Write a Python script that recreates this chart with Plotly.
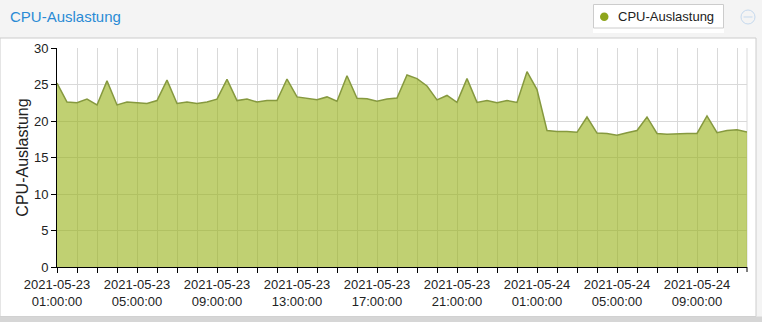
import pandas as pd
import plotly.graph_objects as go

# ---- data ----
start_time = "2021-05-23 01:00:00"
interval = "30min"
cpu_values = [
    25.2, 22.6, 22.5, 23.0, 22.2, 25.5, 22.2, 22.6, 22.5, 22.4,
    22.8, 25.6, 22.4, 22.6, 22.4, 22.6, 23.0, 25.7, 22.8, 23.0,
    22.6, 22.8, 22.8, 25.75, 23.3, 23.15, 22.9, 23.3, 22.7, 26.2,
    23.1, 23.05, 22.7, 23.0, 23.15, 26.3, 25.8, 24.8, 22.9, 23.5,
    22.55, 25.8, 22.55, 22.8, 22.5, 22.8, 22.55, 26.75, 24.3, 18.7,
    18.55, 18.55, 18.45, 20.55, 18.35, 18.3, 18.05, 18.4, 18.7, 20.55,
    18.3, 18.2, 18.3, 18.3, 18.3, 20.7, 18.4, 18.7, 18.8, 18.5,
]
timestamps = pd.date_range(start=start_time, periods=len(cpu_values), freq=interval)
series_name = "CPU-Auslastung"
chart_title = "CPU-Auslastung"
y_title = "CPU-Auslastung"

# ---- layout geometry (pixels) ----
W, H = 762, 322
L, R, T, B = 57, 15, 48, 55
pw, ph = W - L - R, H - T - B


def px(x):
    return (x - L) / pw


def py(y):
    return (H - B - y) / ph


FONT = "Liberation Sans, Arial, sans-serif"
GRID = "#d9d9d9"
SERIES_DOT = "#8ea51c"

fig = go.Figure()
fig.add_trace(go.Scatter(
    x=timestamps, y=cpu_values, mode="lines", name=series_name,
    line=dict(color="#86993f", width=1.5),
    fill="tozeroy", fillcolor="rgba(150,176,20,0.6)",
    showlegend=False, hoverinfo="x+y",
))

shapes = [
    # white panel with border
    dict(type="rect", xref="paper", yref="paper", layer="below",
         x0=px(0), x1=px(756), y0=py(38), y1=py(316.5),
         fillcolor="white", line=dict(color="#cccccc", width=1)),
    # bottom band
    dict(type="rect", xref="paper", yref="paper", layer="below",
         x0=px(-5), x1=px(770), y0=py(316.5), y1=py(330),
         fillcolor="#d6d6d6", line=dict(width=0)),
    # white strip under legend
    dict(type="rect", xref="paper", yref="paper", layer="below",
         x0=px(593), x1=px(724), y0=py(33), y1=py(20),
         fillcolor="white", line=dict(width=0)),
    # legend box
    dict(type="rect", xref="paper", yref="paper",
         x0=px(593.5), x1=px(723.5), y0=py(28), y1=py(4.5),
         fillcolor="white", line=dict(color="#cccccc", width=1)),
    # legend dot
    dict(type="circle", xref="paper", yref="paper",
         x0=px(600), x1=px(608.5), y0=py(21), y1=py(12.5),
         fillcolor=SERIES_DOT, line=dict(width=0)),
    # right plot edge grid line
    dict(type="line", xref="paper", yref="paper",
         x0=1, x1=1, y0=0, y1=1, line=dict(color=GRID, width=1), layer="below"),
    # end tick
    dict(type="line", xref="paper", yref="paper",
         x0=1, x1=1, y0=0, y1=py(272), line=dict(color="black", width=1)),
    # collapse button
    dict(type="circle", xref="paper", yref="paper",
         x0=px(741), x1=px(755), y0=py(10), y1=py(24),
         line=dict(color="#c5d9ee", width=1), fillcolor="rgba(0,0,0,0)"),
    dict(type="line", xref="paper", yref="paper",
         x0=px(743.5), x1=px(752.5), y0=py(17), y1=py(17),
         line=dict(color="#c5d9ee", width=1)),
]

annotations = [
    dict(text=series_name, xref="paper", yref="paper",
         x=px(616), y=py(16.5), xanchor="left", yanchor="middle",
         showarrow=False, font=dict(family=FONT, size=13, color="#222222")),
]

fig.update_layout(
    width=W, height=H,
    margin=dict(l=L, r=R, t=T, b=B),
    paper_bgcolor="#f4f4f4",
    plot_bgcolor="white",
    font=dict(family=FONT, size=13, color="#222222"),
    title=dict(text=chart_title, x=10 / W, xanchor="left",
               y=1 - 17 / H, yanchor="middle",
               font=dict(family=FONT, size=15, color="#2a8bd5")),
    showlegend=False,
    shapes=shapes,
    annotations=annotations,
    xaxis=dict(
        type="date",
        range=[timestamps[0], timestamps[-1]],
        tick0=timestamps[0], dtick=4 * 3600 * 1000,
        tickformat="%Y-%m-%d<br>%H:%M:%S",
        showgrid=True, gridcolor=GRID, gridwidth=1,
        ticks="outside", ticklen=5, tickcolor="black",
        minor=dict(dtick=3600 * 1000, tick0=timestamps[0], showgrid=True,
                   gridcolor=GRID, ticks="outside", ticklen=5, tickcolor="black"),
        showline=True, linecolor="black", linewidth=1,
        zeroline=False,
        tickfont=dict(size=13, color="#222222"),
    ),
    yaxis=dict(
        range=[0, 30], dtick=5,
        showgrid=True, gridcolor=GRID, gridwidth=1,
        ticks="outside", ticklen=5, tickcolor="black",
        showline=True, linecolor="black", linewidth=1,
        zeroline=False,
        title=dict(text=y_title, font=dict(size=16, color="#222222"), standoff=1),
        tickfont=dict(size=13, color="#222222"),
    ),
)

fig.write_html("out.html")
